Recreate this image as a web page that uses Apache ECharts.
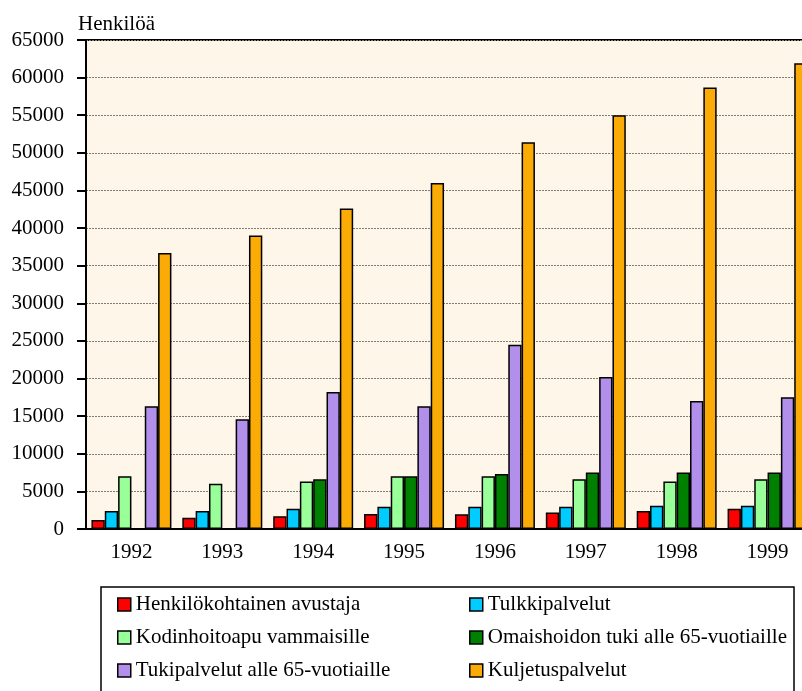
<!DOCTYPE html>
<html>
<head>
<meta charset="utf-8">
<script src="https://cdn.jsdelivr.net/npm/echarts@6/dist/echarts.min.js"></script>
<style>
  html, body { margin: 0; padding: 0; background: #ffffff; }
  #chart { width: 802px; height: 691px; }
</style>
</head>
<body>
<div id="chart"></div>
<script>
// Years on the category axis
const years = ['1992', '1993', '1994', '1995', '1996', '1997', '1998', '1999'];

// Persons per service, by year
const henkilokohtainenAvustaja = [1200, 1500, 1700, 2000, 1950, 2200, 2400, 2700];
const tulkkipalvelut = [2400, 2400, 2700, 2950, 2950, 2950, 3100, 3100];
const kodinhoitoapu = [7000, 6000, 6300, 7000, 7000, 6600, 6300, 6600];
const omaishoidonTuki = [null, null, 6600, 7000, 7300, 7500, 7500, 7500];
const tukipalvelut = [16300, 14600, 18200, 16300, 24500, 20200, 17000, 17500];
const kuljetuspalvelut = [36700, 39000, 42600, 46000, 51400, 55000, 58700, 61900];

// Y axis range
const yMin = 0;
const yMax = 65000;
const yStep = 5000;

const seriesNames = [
  'Henkilökohtainen avustaja',
  'Tulkkipalvelut',
  'Kodinhoitoapu vammaisille',
  'Omaishoidon tuki alle 65-vuotiaille',
  'Tukipalvelut alle 65-vuotiaille',
  'Kuljetuspalvelut'
];
const seriesData = [
  henkilokohtainenAvustaja, tulkkipalvelut, kodinhoitoapu,
  omaishoidonTuki, tukipalvelut, kuljetuspalvelut
];
const seriesColors = ['#FF0000', '#00CCFF', '#99FF99', '#008000', '#B18FEB', '#FBAB05'];

const FONT = "'Liberation Serif', 'Times New Roman', serif";
const FONT_SIZE = 21;

const chart = echarts.init(document.getElementById('chart'), null, { renderer: 'canvas' });

const legendCommon = {
  orient: 'vertical',
  top: 589,
  itemWidth: 13,
  itemHeight: 13,
  itemGap: 12,
  icon: 'rect',
  selectedMode: false,
  itemStyle: { borderColor: '#000', borderWidth: 1.5 },
  textStyle: { fontFamily: FONT, fontSize: FONT_SIZE, color: '#000', lineHeight: 21 }
};

chart.setOption({
  animation: false,
  backgroundColor: '#ffffff',
  title: {
    text: 'Henkilöä',
    left: 73,
    top: 9,
    textStyle: { fontFamily: FONT, fontSize: FONT_SIZE, fontWeight: 'normal', color: '#000' }
  },
  grid: {
    left: 86,
    top: 40,
    width: 727,
    bottom: 162,
    outerBoundsMode: 'none',
    containLabel: false,
    show: true,
    backgroundColor: '#FDF6E9',
    borderColor: '#000',
    borderWidth: 2
  },
  legend: [
    Object.assign({}, legendCommon, { left: 112, data: [seriesNames[0], seriesNames[2], seriesNames[4]] }),
    Object.assign({}, legendCommon, { left: 464, data: [seriesNames[1], seriesNames[3], seriesNames[5]] })
  ],
  graphic: [{
    type: 'rect',
    shape: { x: 101, y: 587, width: 693, height: 120 },
    style: { fill: 'none', stroke: '#000', lineWidth: 1.5 },
    z: 0
  }],
  xAxis: {
    type: 'category',
    data: years,
    axisLine: { lineStyle: { color: '#000', width: 2 } },
    axisTick: { show: false },
    axisLabel: { fontFamily: FONT, fontSize: FONT_SIZE, color: '#000', margin: 13 },
    splitLine: { show: false }
  },
  yAxis: {
    type: 'value',
    min: yMin,
    max: yMax,
    interval: yStep,
    axisLine: { show: true, lineStyle: { color: '#000', width: 2 } },
    axisTick: { show: true, length: 9, lineStyle: { color: '#000', width: 2 } },
    axisLabel: {
      fontFamily: FONT, fontSize: FONT_SIZE, color: '#000', margin: 22,
      formatter: (v) => String(v)
    },
    splitLine: { show: true, lineStyle: { color: '#7f7b75', width: 1, type: [2, 1] } }
  },
  series: seriesNames.map((name, i) => ({
    name: name,
    type: 'bar',
    data: seriesData[i],
    barGap: '0%',
    barCategoryGap: '12%',
    itemStyle: { color: seriesColors[i], borderColor: '#000', borderWidth: 1.5 }
  }))
});
</script>
</body>
</html>
